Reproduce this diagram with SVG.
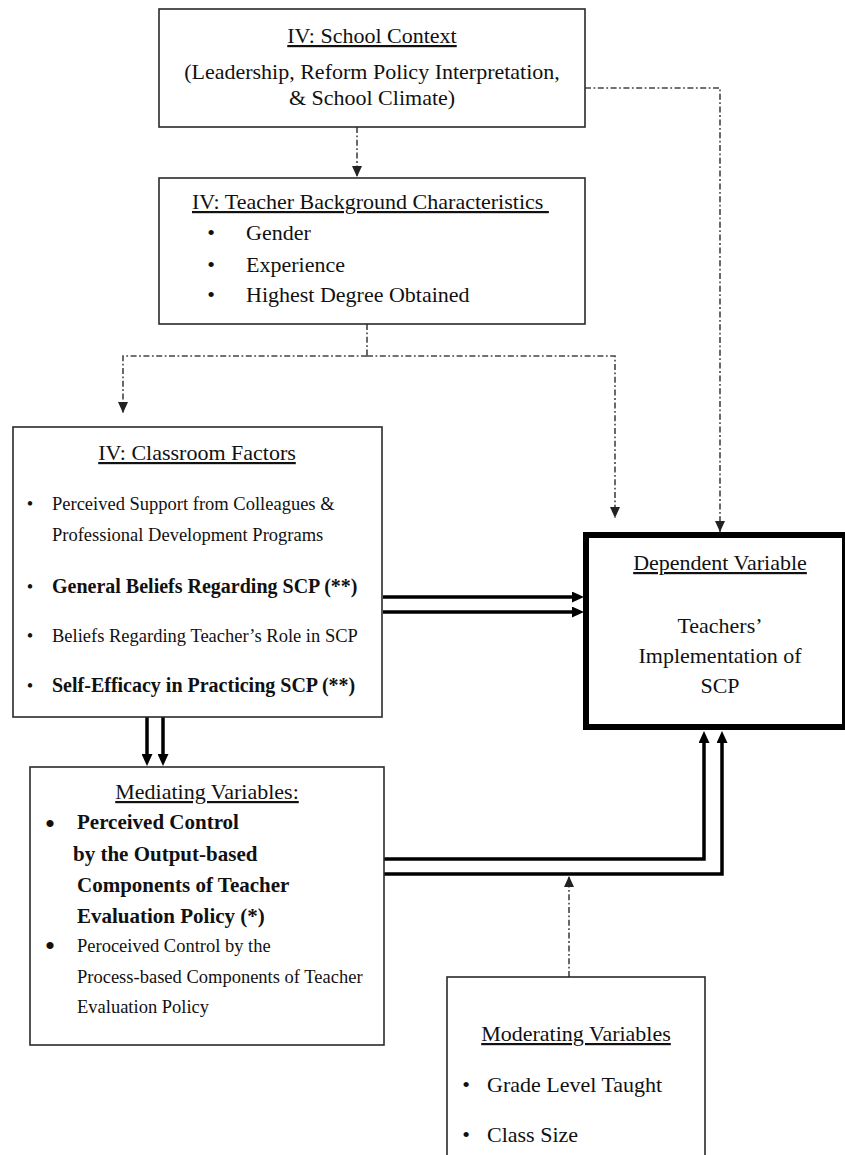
<svg xmlns="http://www.w3.org/2000/svg" width="845" height="1155" viewBox="0 0 845 1155">
  <style>
    text { font-family: "Liberation Serif", "Times New Roman", serif; fill: #111; }
    .t { font-size: 22px; }
    .c { text-anchor: middle; }
    .u { text-decoration: underline; white-space: pre; }
    .r { font-size: 18.5px; }
    .b { font-size: 20px; font-weight: bold; }
    .mb { font-size: 21px; font-weight: bold; }
    .box { fill: #fff; stroke: #2a2a2a; stroke-width: 1.6; }
    .dep { fill: #fff; stroke: #000; stroke-width: 6; }
    .dd { fill: none; stroke: #444; stroke-width: 1.6; stroke-dasharray: 6 2.5 1.8 2.5; }
    .solid { fill: none; stroke: #000; stroke-width: 3.5; }
  </style>
  <defs>
    <marker id="headSolid" viewBox="0 0 12 11" refX="6" refY="5.5" markerWidth="12" markerHeight="11" markerUnits="userSpaceOnUse" orient="auto">
      <path d="M0,0 L12,5.5 L0,11 Z" fill="#000"/>
    </marker>
    <marker id="headDash" viewBox="0 0 11 10" refX="11" refY="5" markerWidth="11" markerHeight="10" markerUnits="userSpaceOnUse" orient="auto">
      <path d="M0,0 L11,5 L0,10 Z" fill="#222"/>
    </marker>
  </defs>

  <rect width="845" height="1155" fill="#fff"/>

  <!-- connectors -->
  <g id="connectors">
    <!-- school context -> teacher background -->
    <path class="dd" d="M357,127 V177" marker-end="url(#headDash)"/>
    <!-- school context -> dependent variable -->
    <path class="dd" d="M585,88 H720 V532" marker-end="url(#headDash)"/>
    <!-- teacher background -> classroom factors / dependent variable -->
    <path class="dd" d="M367,324 V356"/>
    <path class="dd" d="M367,356 H123 V413" marker-end="url(#headDash)"/>
    <path class="dd" d="M367,356 H615 V518" marker-end="url(#headDash)"/>
    <!-- classroom factors -> dependent variable -->
    <path class="solid" d="M383,597 H578" marker-end="url(#headSolid)"/>
    <path class="solid" d="M383,612 H578" marker-end="url(#headSolid)"/>
    <!-- classroom factors -> mediating variables -->
    <path class="solid" d="M147,717 V760" marker-end="url(#headSolid)"/>
    <path class="solid" d="M163,717 V760" marker-end="url(#headSolid)"/>
    <!-- mediating variables -> dependent variable -->
    <path class="solid" d="M384,859 H704 V737" marker-end="url(#headSolid)"/>
    <path class="solid" d="M384,874 H722 V737" marker-end="url(#headSolid)"/>
    <!-- moderating variables -> mediating path -->
    <path class="dd" d="M569,977 V876" marker-end="url(#headDash)"/>
  </g>

  <g id="school-context">
    <rect class="box" x="159" y="9" width="426" height="118"/>
    <text class="t c u" x="372" y="43">IV: School Context</text>
    <text class="t c" x="372" y="79">(Leadership, Reform Policy Interpretation,</text>
    <text class="t c" x="372" y="105">&amp; School Climate)</text>
  </g>

  <g id="teacher-background">
    <rect class="box" x="159" y="178" width="426" height="146"/>
    <text class="t u" x="192" y="209">IV: Teacher Background Characteristics </text>
    <text class="t c" x="211" y="240">•</text>
    <text class="t" x="246" y="240">Gender</text>
    <text class="t c" x="211" y="272">•</text>
    <text class="t" x="246" y="272">Experience</text>
    <text class="t c" x="211" y="302">•</text>
    <text class="t" x="246" y="302">Highest Degree Obtained</text>
  </g>

  <g id="classroom-factors">
    <rect class="box" x="13" y="427" width="369" height="290"/>
    <text class="t c u" x="197" y="460">IV: Classroom Factors</text>
    <text class="r c" x="30" y="510">•</text>
    <text class="r" x="52" y="510">Perceived Support from Colleagues &amp;</text>
    <text class="r" x="52" y="541">Professional Development Programs</text>
    <text class="r c" x="30" y="593">•</text>
    <text class="b" x="52" y="593">General Beliefs Regarding SCP (**)</text>
    <text class="r c" x="30" y="642">•</text>
    <text class="r" x="52" y="642">Beliefs Regarding Teacher’s Role in SCP</text>
    <text class="r c" x="30" y="692">•</text>
    <text class="b" x="52" y="692">Self-Efficacy in Practicing SCP (**)</text>
  </g>

  <g id="mediating-variables">
    <rect class="box" x="30" y="767" width="354" height="278"/>
    <text class="t c u" x="207" y="799">Mediating Variables:</text>
    <text class="c" x="50" y="834" style="font-size:30px">•</text>
    <text class="mb" x="77" y="829">Perceived Control</text>
    <text class="mb" x="73" y="861">by the Output-based</text>
    <text class="mb" x="77" y="892">Components of Teacher</text>
    <text class="mb" x="77" y="923">Evaluation Policy (*)</text>
    <text class="c" x="50" y="956" style="font-size:30px">•</text>
    <text class="r" x="77" y="952">Peroceived Control by the</text>
    <text class="r" x="77" y="983">Process-based Components of Teacher</text>
    <text class="r" x="77" y="1013">Evaluation Policy</text>
  </g>

  <g id="dependent-variable">
    <rect class="dep" x="586" y="535" width="259" height="192"/>
    <text class="t c u" x="720" y="570">Dependent Variable</text>
    <text class="t c" x="720" y="633">Teachers’</text>
    <text class="t c" x="720" y="663">Implementation of</text>
    <text class="t c" x="720" y="693">SCP</text>
  </g>

  <g id="moderating-variables">
    <rect class="box" x="447" y="977" width="258" height="190"/>
    <text class="t c u" x="576" y="1041">Moderating Variables</text>
    <text class="t c" x="466" y="1092">•</text>
    <text class="t" x="487" y="1092">Grade Level Taught</text>
    <text class="t c" x="466" y="1142">•</text>
    <text class="t" x="487" y="1142">Class Size</text>
  </g>
</svg>
